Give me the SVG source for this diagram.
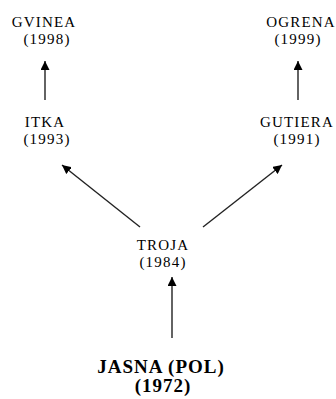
<svg xmlns="http://www.w3.org/2000/svg" width="336" height="399" viewBox="0 0 336 399">
<style>
text{font-family:"Liberation Serif","Times New Roman",serif;fill:#000;text-anchor:middle}
.n{font-size:15px;letter-spacing:1.2px}
.b{font-size:19px;font-weight:bold;letter-spacing:1px}
.c line{stroke:#222;stroke-width:1.4}
</style>
<defs>
<marker id="ah" viewBox="0 0 10 10" refX="10" refY="5" markerWidth="9" markerHeight="9" markerUnits="userSpaceOnUse" orient="auto">
<path d="M0,0 L10,5 L0,10 z" fill="#000"/>
</marker>
</defs>
<rect width="336" height="399" fill="#fff"/>
<g id="gvinea"><text class="n" x="44" y="27">GVINEA</text><text class="n" x="47" y="44">(1998)</text></g>
<g id="ogrena"><text class="n" x="301" y="27">OGRENA</text><text class="n" x="298" y="44">(1999)</text></g>
<g id="itka"><text class="n" x="45" y="127">ITKA</text><text class="n" x="47" y="144">(1993)</text></g>
<g id="gutiera"><text class="n" x="297" y="127">GUTIERA</text><text class="n" x="297" y="144">(1991)</text></g>
<g id="troja"><text class="n" x="163" y="250">TROJA</text><text class="n" x="163" y="267">(1984)</text></g>
<g id="jasna"><text class="b" x="161" y="373">JASNA (POL)</text><text class="b" x="163" y="392">(1972)</text></g>
<g id="connectors" class="c">
<line x1="45" y1="100" x2="45" y2="61" marker-end="url(#ah)"/>
<line x1="298" y1="100" x2="298" y2="61" marker-end="url(#ah)"/>
<line x1="140" y1="227" x2="62" y2="165" marker-end="url(#ah)"/>
<line x1="203" y1="227" x2="282" y2="165" marker-end="url(#ah)"/>
<line x1="172" y1="338" x2="172" y2="277" marker-end="url(#ah)"/>
</g>
</svg>
